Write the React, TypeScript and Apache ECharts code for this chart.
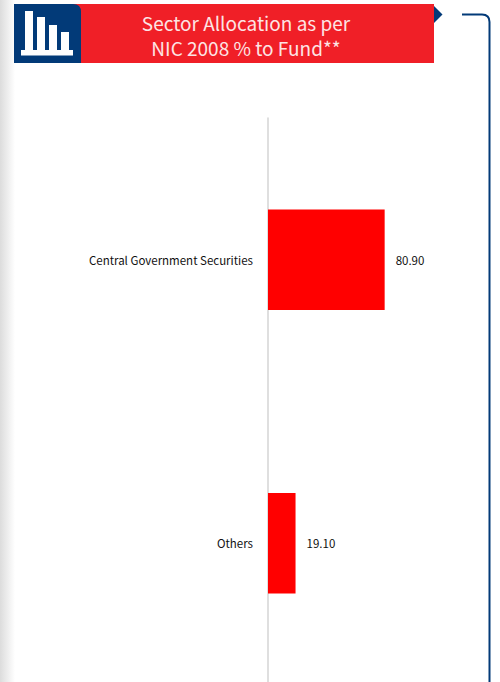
import React, { useEffect, useRef } from "react";
import * as echarts from "echarts";

const categories = ["Others", "Central Government Securities"];
const values = [19.1, 80.9];
const titleLines = ["Sector Allocation as per", "NIC 2008 % to Fund**"];
const FONT = '"Noto Sans CJK SC", "Noto Sans", sans-serif';

echarts.graphic.registerShape(
  "cornerBracket",
  echarts.graphic.extendPath("M462 14.5 H482 Q489.5 14.5 489.5 22 V682", {}) as any
);
echarts.graphic.registerShape(
  "iconTab",
  echarts.graphic.extendPath("M14 4 H73 Q81 4 81 12 V63 H14 Z", {}) as any
);

export default function App() {
  const ref = useRef<HTMLDivElement>(null);
  useEffect(() => {
    document.body.style.margin = "0";
    const chart = echarts.init(ref.current!, undefined, { renderer: "svg" });
    const iconBars = [
      [25, 11, 8, 39],
      [37, 17, 8, 33],
      [49, 25, 8, 25],
      [61, 32, 8, 18],
      [21, 50, 52, 5.5],
    ];
    chart.setOption({
      animation: false,
      backgroundColor: "#ffffff",
      grid: { left: 268, top: 118, width: 144.2, height: 567, containLabel: false, outerBoundsMode: "none" },
      xAxis: { type: "value", min: 0, max: 100, show: false },
      yAxis: {
        type: "category",
        data: categories,
        offset: 2,
        axisLine: { show: true, lineStyle: { color: "#d4d4d4", width: 1.5 } },
        axisTick: { show: false },
        axisLabel: {
          color: "#111111",
          fontFamily: FONT,
          fontSize: 11.5,
          fontWeight: 400,
          margin: 13,
          padding: [0, 0, 2, 0],
        },
      },
      series: [
        {
          type: "bar",
          data: values,
          barWidth: 100.5,
          itemStyle: { color: "#ff0000" },
          label: {
            show: true,
            position: "right",
            distance: 11,
            color: "#111111",
            fontFamily: FONT,
            fontSize: 11.5,
            fontWeight: 400,
            formatter: (p: any) => Number(p.value).toFixed(2),
          },
        },
      ],
      graphic: [
        {
          type: "rect",
          z: -1,
          shape: { x: 0, y: 0, width: 15, height: 682 },
          style: {
            fill: new echarts.graphic.LinearGradient(0, 0, 1, 0, [
              { offset: 0, color: "#dcdcdc" },
              { offset: 1, color: "#ffffff" },
            ]),
          },
        },
        { type: "rect", shape: { x: 14, y: 4, width: 420, height: 59 }, style: { fill: "#f01f27" } },
        { type: "iconTab", style: { fill: "#023a78" } },
        ...iconBars.map(([x, y, width, height]) => ({
          type: "rect",
          shape: { x, y, width, height },
          style: { fill: "#ffffff" },
        })),
        {
          type: "text",
          x: 246,
          y: 35,
          style: {
            text: titleLines.join("\n"),
            fill: "#fde4e4",
            font: `400 19px ${FONT}`,
            lineHeight: 25.5,
            textAlign: "center",
            textVerticalAlign: "middle",
          },
        },
        { type: "polygon", shape: { points: [[434, 6], [442.5, 14.5], [434, 23]] }, style: { fill: "#023a78" } },
        { type: "cornerBracket", style: { fill: "none", stroke: "#023a78", lineWidth: 2 } },
      ],
    });
    return () => chart.dispose();
  }, []);
  return <div ref={ref} style={{ position: "fixed", left: 0, top: 0, width: 500, height: 682 }} />;
}
